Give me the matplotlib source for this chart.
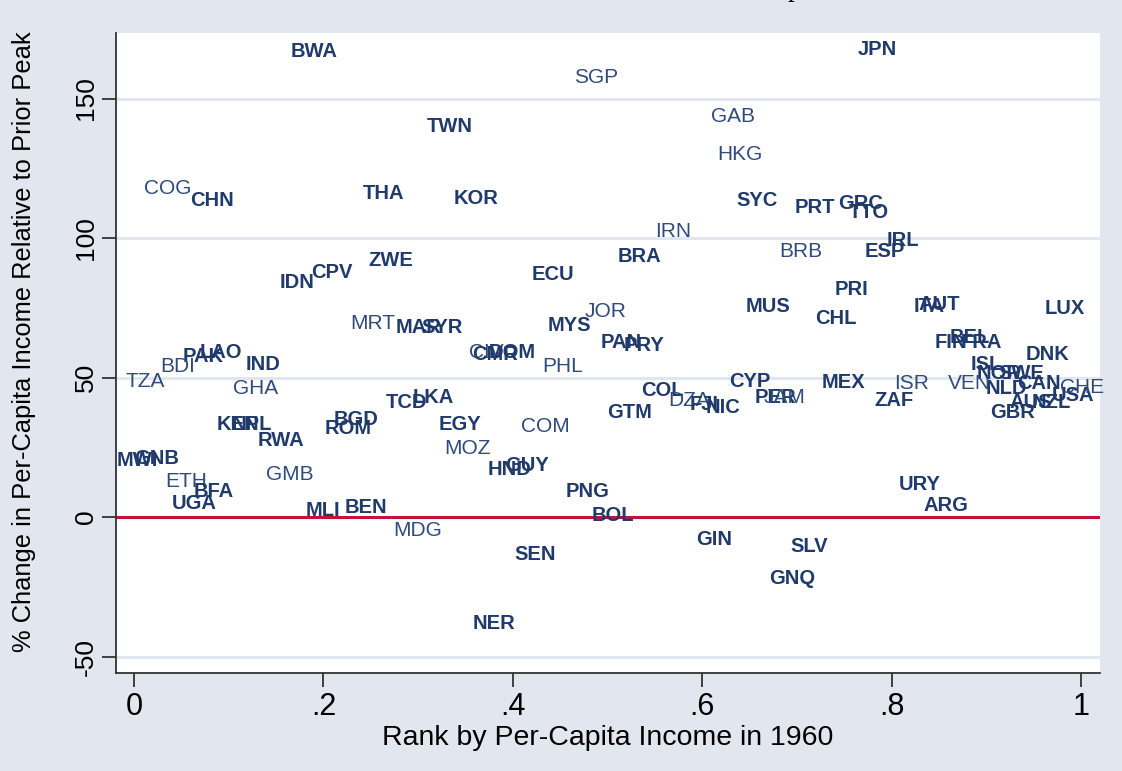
import numpy as np
import matplotlib
matplotlib.use("Agg")
from matplotlib import pyplot as plt

# country codes, rank in 1960, % change relative to prior peak
codes = ["BWA", "JPN", "SGP", "TWN", "GAB", "HKG", "COG", "CHN", "THA", "KOR",
         "SYC", "PRT", "GRC", "TTO", "IRN", "IRL", "BRB", "ESP", "BRA", "ZWE",
         "CPV", "IDN", "ECU", "PRI", "MUS", "ITA", "AUT", "LUX", "CHL", "JOR",
         "MYS", "MRT", "MAR", "SYR", "PAN", "PRY", "CIV", "CMR", "DOM", "PHL",
         "DNK", "FIN", "BEL", "FRA", "ISL", "NOR", "SWE", "NLD", "CAN", "AUS",
         "NZL", "GBR", "USA", "CHE", "VEN", "ISR", "ZAF", "MEX", "CYP", "PER",
         "JAM", "COL", "DZA", "FJI", "NIC", "GTM", "COM", "EGY", "LKA", "TCD",
         "BGD", "ROM", "KEN", "NPL", "RWA", "MOZ", "GMB", "GHA", "IND", "LAO",
         "PAK", "BDI", "TZA", "MWI", "GNB", "ETH", "BFA", "UGA", "MLI", "BEN",
         "MDG", "HND", "GUY", "PNG", "BOL", "SEN", "NER", "GIN", "SLV", "GNQ",
         "URY", "ARG"]
rank = [0.190, 0.785, 0.488, 0.333, 0.632, 0.640, 0.036, 0.082, 0.263, 0.361,
        0.658, 0.719, 0.767, 0.776, 0.569, 0.812, 0.704, 0.793, 0.534, 0.271,
        0.209, 0.172, 0.442, 0.758, 0.669, 0.840, 0.850, 0.983, 0.741, 0.498,
        0.460, 0.252, 0.301, 0.325, 0.514, 0.539, 0.372, 0.381, 0.399, 0.453,
        0.965, 0.863, 0.882, 0.895, 0.900, 0.914, 0.937, 0.921, 0.956, 0.947,
        0.968, 0.928, 0.992, 1.001, 0.882, 0.821, 0.802, 0.749, 0.650, 0.677,
        0.687, 0.558, 0.586, 0.602, 0.622, 0.523, 0.434, 0.344, 0.316, 0.288,
        0.235, 0.226, 0.110, 0.124, 0.155, 0.352, 0.164, 0.128, 0.136, 0.092,
        0.073, 0.046, 0.012, 0.003, 0.024, 0.055, 0.084, 0.064, 0.199, 0.245,
        0.299, 0.397, 0.415, 0.479, 0.506, 0.424, 0.380, 0.613, 0.713, 0.695,
        0.830, 0.857]
change = [167.0, 167.7, 157.7, 140.1, 143.7, 130.1, 117.6, 113.6, 115.8, 114.3,
          113.3, 110.8, 112.5, 109.3, 102.5, 99.3, 95.3, 95.3, 93.5, 92.1,
          87.8, 84.2, 87.1, 81.4, 75.3, 75.6, 76.3, 74.6, 71.0, 73.8,
          68.5, 69.5, 68.1, 68.1, 62.4, 61.6, 59.1, 58.1, 59.1, 54.1,
          58.4, 62.7, 64.2, 62.4, 54.5, 51.6, 51.3, 46.2, 47.7, 41.2,
          41.2, 37.6, 43.4, 46.6, 47.7, 47.7, 41.6, 48.4, 48.7, 43.0,
          42.7, 45.2, 41.9, 40.5, 39.1, 37.3, 32.3, 33.0, 42.7, 41.2,
          35.1, 31.9, 33.3, 33.3, 27.6, 24.7, 15.4, 45.9, 54.5, 59.1,
          57.7, 54.1, 48.7, 20.1, 21.1, 12.9, 9.0, 5.0, 2.2, 3.6,
          -5.0, 17.2, 18.3, 9.0, 0.7, -13.3, -38.0, -7.9, -10.4, -22.2,
          11.8, 4.3]
# labels drawn lighter in the original
light = {"SGP", "GAB", "HKG", "COG", "IRN", "BRB", "MRT", "JOR", "CIV", "PHL",
         "CHE", "VEN", "ISR", "JAM", "DZA", "COM", "MOZ", "GMB", "GHA", "BDI",
         "TZA", "ETH", "MDG"}

xticks = [0, 0.2, 0.4, 0.6, 0.8, 1.0]
xticklabels = ["0", ".2", ".4", ".6", ".8", "1"]
yticks = [-50, 0, 50, 100, 150]

BG = "#e1e6ef"
NAVY = "#1f3a6b"
NAVY_LT = "#2f4b7c"
narrow = ["Liberation Sans Narrow", "Liberation Sans", "DejaVu Sans"]
plt.rcParams["font.family"] = ["Liberation Sans", "DejaVu Sans"]

fig = plt.figure(figsize=(11.22, 7.71), dpi=100, facecolor=BG)
ax = fig.add_axes([116/1122, 1 - 673/771, (1100 - 116)/1122, (673 - 33)/771])
ax.set_facecolor("white")

for c, xv, yv in zip(codes, rank, change):
    if c in light:
        ax.text(xv, yv, c, ha="center", va="center", fontsize=15,
                color=NAVY_LT, fontweight="normal")
    else:
        ax.text(xv, yv, c, ha="center", va="center", fontsize=14.5,
                color=NAVY, fontweight="bold")

for yv in [-50, 50, 100, 150]:
    ax.axhline(yv, color="#e1e6ef", lw=2.2, zorder=0)
ax.axhline(0, color="#c4123a", lw=2.2, zorder=1)

ax.set_xlim(-0.019, 1.020)
ax.set_ylim(-55.9, 173.5)

for side in ["top", "right"]:
    ax.spines[side].set_visible(False)
for side in ["left", "bottom"]:
    ax.spines[side].set_color("#333333")
    ax.spines[side].set_linewidth(1.3)

ax.set_xticks(xticks)
ax.set_xticklabels(xticklabels, family=narrow, fontsize=22)
ax.set_yticks(yticks)
ax.set_yticklabels([str(v) for v in yticks], fontsize=19, rotation=90, va="center")
ax.tick_params(axis="both", direction="out", length=10, width=1.3, color="#333333",
               labelcolor="black")
ax.tick_params(axis="x", pad=4)
ax.tick_params(axis="y", pad=3)

ax.set_xlabel("Rank by Per-Capita Income in 1960", family=narrow, fontsize=20.5,
              labelpad=2)
ax.set_ylabel("% Change in Per-Capita Income Relative to Prior Peak", fontsize=18.4)
ax.yaxis.set_label_coords(-0.081, 0.517)

# title mostly cut off at the top edge
fig.text(795/1122, 1 + 4/771, "p", family=["Liberation Serif", "DejaVu Serif"],
         fontsize=20, ha="center", va="baseline")

fig.savefig("out.png", dpi=100, facecolor=BG)
